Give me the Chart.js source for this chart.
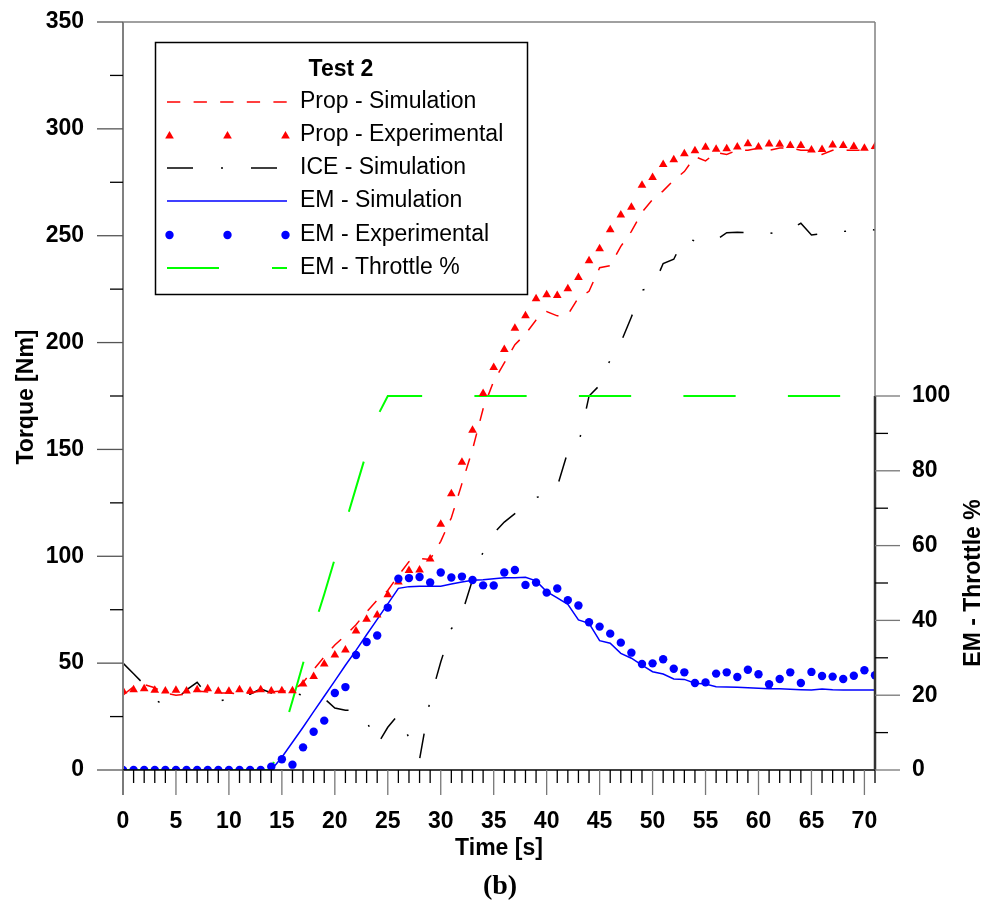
<!DOCTYPE html>
<html>
<head>
<meta charset="utf-8">
<script src="https://cdn.jsdelivr.net/npm/chart.js"></script>
<style>
  html, body { margin: 0; padding: 0; background: #fff; }
  #wrap { position: relative; width: 995px; height: 905px; }
</style>
</head>
<body>
<div id="wrap"><canvas id="myChart"></canvas></div>
<script>
// time [s]
const times = [0, 1, 2, 3, 4, 5, 6, 7, 8, 9, 10, 11, 12, 13, 14, 15, 16, 17, 18, 19,
  20, 21, 22, 23, 24, 25, 26, 27, 28, 29, 30, 31, 32, 33, 34, 35, 36, 37, 38, 39,
  40, 41, 42, 43, 44, 45, 46, 47, 48, 49, 50, 51, 52, 53, 54, 55, 56, 57, 58, 59,
  60, 61, 62, 63, 64, 65, 66, 67, 68, 69, 70, 71];

// torque [Nm]
const propSim = [35, 39, 40, 38.5, 36, 35, 35.5, 37, 36.5, 36, 36, 35.5, 36, 37, 36.5, 37, 37, 41, 47, 53,
  58.5, 63, 68, 74, 79.5, 84, 91, 97.5, 99, 98.5, 107, 118, 134, 150, 169, 182, 190.5, 199, 204, 210.5,
  214.5, 212.5, 213, 221, 224, 235, 236, 245, 252, 261, 267, 271, 276, 280, 287, 285, 289, 288, 290, 290,
  291, 290, 291, 291, 290, 290, 288, 290, 290, 290, 290, 291];

const propExp = [37, 37.5, 38, 37.3, 37, 37.3, 37, 37.5, 38, 36.8, 36.8, 37.5, 37, 37.5, 37, 37.1, 37.1, 40.2, 43.7, 49.6,
  53.8, 56.2, 65, 70.5, 72.5, 82, 88, 93.3, 93.6, 98.7, 115, 129.3, 144, 159, 176.2, 188.3, 196.8, 206.7, 212.6, 220.5,
  222.4, 222, 225.2, 230.5, 238.3, 243.9, 252.8, 259.7, 263.3, 273.6, 277.2, 283.3, 285.6, 288.3, 289.7, 291.4, 290.5, 290.7, 291.5, 293,
  291.5, 292.9, 292.8, 292.2, 292.2, 290.1, 290.3, 292.5, 292.2, 291.7, 290.9, 291.7];

const iceSim = [50, 45, 40, 33, 30, 33, 37.5, 41, 35, 32, 33.5, 36, 35.5, 38, 36, 36, 36, 35, 34.5, 33.5,
  29, 28, 28, 23, 11.7, 20, 26, 15, 5, 33, 50.5, 66, 73.2, 89, 102, 110.7, 116, 120, 123, 127.5,
  128.7, 132.6, 149, 152, 175, 180, 192, 200, 212, 224.6, 225.5, 237, 239, 249.2, 247.5, 247, 248, 251.4, 251.6, 251.5,
  251, 251, 252, 253, 255.8, 250.3, 251, 251.4, 252, 252.4, 253, 252.7];

const emSim = [0, 0, 0, 0, 0, 0, 0, 0, 0, 0, 0, 0, 0, 0, 0, 6, 13, 20, 27.3, 34.5,
  41.7, 49, 56, 63.3, 70.5, 77.7, 85, 85.8, 86, 86, 86, 87, 88, 88.8, 89, 89.5, 90, 90, 90.2, 88.5,
  83.5, 80.5, 77.5, 70.2, 68.6, 60.5, 59.3, 54.6, 52.3, 49.1, 46, 44.9, 42.6, 42.4, 40.6, 40.2, 39, 38.8, 38.7, 38.5,
  38.2, 38, 38, 37.8, 37.6, 37.4, 37.9, 37.5, 37.4, 37.4, 37.4, 37.4];

const emExp = [0, 0, 0, 0, 0, 0, 0, 0, 0, 0, 0, 0, 0, 0, 1.5, 5, 2.5, 10.6, 17.9, 23.1,
  36, 38.8, 53.8, 59.9, 62.9, 76, 89.5, 89.8, 90.3, 87.7, 92.4, 90.1, 90.5, 88.9, 86.4, 86.3, 92.4, 93.6, 86.6, 87.7,
  83, 84.9, 79.5, 77, 69.1, 67.1, 63.8, 59.6, 54.9, 49.6, 49.9, 51.8, 47.4, 45.7, 40.7, 41, 45.1, 45.7, 43.5, 46.9,
  44.8, 40.1, 42.6, 45.7, 40.7, 45.9, 44, 43.7, 42.6, 44.1, 46.7, 44.3];

// throttle [%]
const throttle = [0, 0, 0, 0, 0, 0, 0, 0, 0, 0, 0, 0, 0, 0, 0, 9, 18.5, 28.5, 38, 47,
  56.5, 66, 75.5, 85, 94.5, 100, 100, 100, 100, 100, 100, 100, 100, 100, 100, 100, 100, 100, 100, 100,
  100, 100, 100, 100, 100, 100, 100, 100, 100, 100, 100, 100, 100, 100, 100, 100, 100, 100, 100, 100,
  100, 100, 100, 100, 100, 100, 100, 100, 100, 100, 100, 100];

// tick labels
const xTickLabels = [0, 5, 10, 15, 20, 25, 30, 35, 40, 45, 50, 55, 60, 65, 70];
const yTickLabels = [0, 50, 100, 150, 200, 250, 300, 350];
const y2TickLabels = [0, 20, 40, 60, 80, 100];

const legendLabels = ['Prop - Simulation', 'Prop - Experimental', 'ICE - Simulation',
  'EM - Simulation', 'EM - Experimental', 'EM - Throttle %'];

const RED = '#ff0000', BLUE = '#0000ff', GREEN = '#00ff00', BLACK = '#000000';
const FONT = '"Liberation Sans", Arial, sans-serif';

const pts = arr => times.map((t, i) => ({ x: t, y: arr[i] }));

function tri(ctx, x, y, r) {
  ctx.beginPath();
  ctx.moveTo(x, y - r);
  ctx.lineTo(x + r * 0.866, y + r * 0.5);
  ctx.lineTo(x - r * 0.866, y + r * 0.5);
  ctx.closePath();
  ctx.fill();
}

function dot(ctx, x, y, r) {
  ctx.beginPath();
  ctx.arc(x, y, r, 0, Math.PI * 2);
  ctx.fill();
}

function seg(ctx, x1, y1, x2, y2) {
  ctx.beginPath();
  ctx.moveTo(x1, y1);
  ctx.lineTo(x2, y2);
  ctx.stroke();
}

const decor = {
  id: 'decor',
  afterDraw(chart) {
    const ctx = chart.ctx;
    const a = chart.chartArea;
    const sx = chart.scales.x, sy = chart.scales.y, s2 = chart.scales.y2;
    ctx.save();
    ctx.setLineDash([]);

    // frame
    ctx.strokeStyle = '#808080';
    ctx.lineWidth = 1.5;
    seg(ctx, a.left, a.top, a.right, a.top);
    seg(ctx, a.right, a.top, a.right, a.bottom);
    ctx.lineWidth = 2;
    seg(ctx, a.left, a.top, a.left, a.bottom + 25);
    ctx.strokeStyle = '#000';
    ctx.lineWidth = 1.5;
    seg(ctx, a.left, a.bottom, a.right, a.bottom);
    ctx.strokeStyle = '#333';
    ctx.lineWidth = 2.5;
    seg(ctx, a.right, s2.getPixelForValue(0), a.right, s2.getPixelForValue(100));

    // x ticks
    ctx.lineWidth = 1.3;
    for (let t = 0; t <= 71; t++) {
      const px = sx.getPixelForValue(t);
      const major = t % 5 === 0;
      ctx.strokeStyle = major ? '#777' : '#000';
      seg(ctx, px, a.bottom, px, a.bottom + (major ? 25 : 13));
    }
    // left ticks
    for (let v = 0; v <= 350; v += 25) {
      const py = sy.getPixelForValue(v);
      const major = v % 50 === 0;
      ctx.strokeStyle = major ? '#555' : '#000';
      seg(ctx, a.left - (major ? 26 : 13), py, a.left, py);
    }
    // right ticks
    for (let v = 0; v <= 100; v += 10) {
      const py = s2.getPixelForValue(v);
      const major = v % 20 === 0;
      ctx.strokeStyle = major ? '#777' : '#000';
      seg(ctx, a.right, py, a.right + (major ? 25 : 13), py);
    }

    // axis titles
    ctx.fillStyle = '#000';
    ctx.textAlign = 'center';
    ctx.textBaseline = 'middle';
    ctx.font = 'bold 23px ' + FONT;
    ctx.fillText('Time [s]', 499, 849);
    ctx.save();
    ctx.translate(27, 397);
    ctx.rotate(-Math.PI / 2);
    ctx.fillText('Torque [Nm]', 0, 0);
    ctx.restore();
    ctx.save();
    ctx.translate(974, 583);
    ctx.rotate(-Math.PI / 2);
    ctx.fillText('EM - Throttle %', 0, 0);
    ctx.restore();
    ctx.font = 'bold 28px "Liberation Serif", serif';
    ctx.fillText('(b)', 500, 887);

    // legend box
    ctx.fillStyle = '#fff';
    ctx.fillRect(155, 42, 372, 252);
    ctx.strokeStyle = '#000';
    ctx.lineWidth = 1.5;
    ctx.strokeRect(155.5, 42.5, 372, 252);
    ctx.fillStyle = '#000';
    ctx.font = 'bold 23px ' + FONT;
    ctx.fillText('Test 2', 341, 70);

    const rows = [102, 135, 168, 201, 235, 268];
    ctx.font = '23px ' + FONT;
    ctx.textAlign = 'left';
    legendLabels.forEach((lab, i) => ctx.fillText(lab, 300, rows[i]));

    ctx.lineWidth = 1.5;
    ctx.strokeStyle = RED;
    ctx.setLineDash([13.3, 13.3]);
    seg(ctx, 167, rows[0], 287, rows[0]);
    ctx.fillStyle = RED;
    [169.5, 227.5, 285.5].forEach(x => tri(ctx, x, rows[1] + 1, 5));
    ctx.strokeStyle = BLACK;
    ctx.setLineDash([26, 28, 2, 28]);
    seg(ctx, 167, rows[2], 287, rows[2]);
    ctx.strokeStyle = BLUE;
    ctx.setLineDash([]);
    seg(ctx, 167, rows[3], 287, rows[3]);
    ctx.fillStyle = BLUE;
    [169.5, 227.5, 285.5].forEach(x => dot(ctx, x, rows[4], 4.2));
    ctx.strokeStyle = GREEN;
    ctx.lineWidth = 2;
    ctx.setLineDash([52, 53]);
    seg(ctx, 167, rows[5], 287, rows[5]);
    ctx.restore();
  }
};

const data = {
  datasets: [
    {
      label: legendLabels[4], data: pts(emExp), yAxisID: 'y', showLine: false,
      pointStyle: 'circle', pointRadius: 4.2, pointBorderWidth: 0,
      pointBackgroundColor: BLUE, borderColor: BLUE
    },
    {
      label: legendLabels[1], data: pts(propExp), yAxisID: 'y', showLine: false,
      pointStyle: 'triangle', pointRadius: 5, pointBorderWidth: 0,
      pointBackgroundColor: RED, borderColor: RED
    },
    {
      label: legendLabels[5], data: pts(throttle), yAxisID: 'y2',
      borderColor: GREEN, borderWidth: 2, borderDash: [52.25, 52.25], pointRadius: 0
    },
    {
      label: legendLabels[3], data: pts(emSim), yAxisID: 'y',
      borderColor: BLUE, borderWidth: 1.5, pointRadius: 0
    },
    {
      label: legendLabels[0], data: pts(propSim), yAxisID: 'y',
      borderColor: RED, borderWidth: 1.5, borderDash: [13, 13], pointRadius: 0
    },
    {
      label: legendLabels[2], data: pts(iceSim), yAxisID: 'y',
      borderColor: BLACK, borderWidth: 1.5, borderDash: [25, 27, 2, 27], pointRadius: 0
    }
  ]
};

const tickFont = { family: FONT, size: 23, weight: 'bold' };
const noLines = { display: false, drawTicks: false };

// vertical axes: keep the label overflow from pushing the plot area down
function fixVertical(width) {
  return s => { s.width = width; s.paddingTop = 0; s.paddingBottom = 0; };
}

const config = {
  type: 'line',
  data: data,
  options: {
    responsive: true,
    maintainAspectRatio: false,
    animation: false,
    layout: { padding: { top: 22, left: 0, right: 0, bottom: 0 } },
    elements: { line: { tension: 0, fill: false } },
    plugins: { legend: { display: false }, tooltip: { enabled: false } },
    scales: {
      x: {
        type: 'linear', min: 0, max: 71,
        grid: noLines, border: { display: false },
        afterBuildTicks(s) { s.ticks = xTickLabels.map(v => ({ value: v })); },
        afterFit(s) { s.height = 135; s.paddingLeft = 0; s.paddingRight = 0; },
        ticks: { autoSkip: false, maxRotation: 0, padding: 38, font: tickFont, color: '#000' }
      },
      y: {
        position: 'left', min: 0, max: 350,
        grid: noLines, border: { display: false },
        afterBuildTicks(s) { s.ticks = yTickLabels.map(v => ({ value: v })); },
        afterFit: fixVertical(123),
        ticks: { padding: 39, font: tickFont, color: '#000' }
      },
      y2: {
        position: 'right', min: 0, max: 200,
        grid: noLines, border: { display: false },
        afterBuildTicks(s) { s.ticks = y2TickLabels.map(v => ({ value: v })); },
        afterFit: fixVertical(120),
        ticks: { padding: 37, font: tickFont, color: '#000' }
      }
    }
  },
  plugins: [decor]
};

const myChart = new Chart(document.getElementById('myChart'), config);
</script>
</body>
</html>
